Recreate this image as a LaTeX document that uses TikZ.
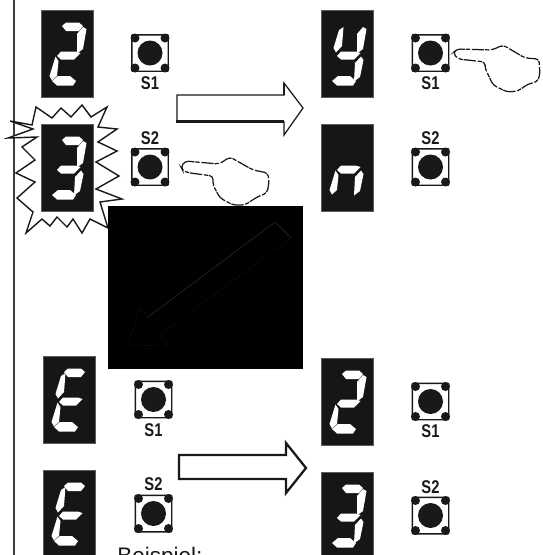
\documentclass[tikz,border=0pt]{standalone}
\usepackage{fontspec}
\setmainfont{Liberation Sans}
\newfontfamily\btnfont[FakeStretch=0.8]{Liberation Sans}
\usepackage{xcolor}
\usetikzlibrary{positioning,calc}
\definecolor{C_panel}{RGB}{20,22,24}
\definecolor{C_ink}{RGB}{26,24,24}
\definecolor{C_rule}{RGB}{60,60,60}
\definecolor{C_ghost}{RGB}{36,30,27}
\begin{document}
\begin{tikzpicture}[x=0.02cm,y=-0.02cm]
  \tikzset{
    display/.style={rectangle, fill=C_panel, draw=C_panel!70, line width=0.2pt, minimum width=1.04cm, minimum height=1.74cm, inner sep=0pt, anchor=north west},
    segment/.style={fill=white, draw=none},
    sega/.style={insert path={(21,16) -- (25,12.5) -- (38,12.5) -- (42,16) -- (38,21) -- (25,21) -- cycle}},
    segb/.style={insert path={(42,17) -- (45.5,19) -- (42,39) -- (36,43.5) -- (36,24) -- cycle}},
    segc/.style={insert path={(40,46.5) -- (42.5,50) -- (39,67) -- (33,71.5) -- (34,53) -- cycle}},
    segd/.style={insert path={(11,71) -- (17,66) -- (29,66) -- (35,71) -- (32,75.5) -- (16,75.5) -- cycle}},
    sege/.style={insert path={(14.5,46.5) -- (17.5,51) -- (16,66) -- (11,70.5) -- (8.5,66) -- cycle}},
    segf/.style={insert path={(18,20) -- (22.5,17) -- (21,36) -- (15,42.5) -- (12.5,38) -- cycle}},
    segg/.style={insert path={(16,46) -- (20,41.5) -- (35,41.5) -- (39.5,43) -- (33,49.5) -- (20,49.5) -- cycle}},
    button/.style={rectangle, draw=C_ink, fill=white, line width=0.85pt, rounded corners=0.5pt, minimum size=0.73cm, inner sep=0pt},
    btnlabel/.style={font=\btnfont\fontsize{10.5}{10.5}\selectfont\bfseries, text=C_ink, inner sep=0pt},
    bigarrow/.style={draw=C_ink, fill=white, line width=1.3pt, line join=miter},
    burst/.style={draw=C_ink, fill=white, line width=0.8pt, line join=miter},
    handline/.style={draw=C_ink, line width=0.7pt, dash pattern=on 7pt off 0.5pt on 2.5pt off 1pt, rounded corners=2pt}
  }
  \useasboundingbox (0,0) rectangle (543,555);
  \clip (0,0) rectangle (543,555);
  \fill[white] (0,0) rectangle (543,555);
  \draw[C_rule, line width=1pt] (14,0) -- (14,555);

  \draw[burst] (36,107) -- (52,118) -- (61,108) -- (71,117) -- (82,105) -- (91,117) -- (107,107) -- (98,127) -- (117,129) -- (98,142) -- (117,151) -- (96,162) -- (119,176) -- (96,189) -- (122,199) -- (100,202) -- (108,228) -- (90,219) -- (82,233) -- (73,219) -- (67,227) -- (57,217) -- (50,226) -- (42,219) -- (26,233) -- (33,212) -- (17,198) -- (35,182) -- (16,173) -- (35,160) -- (22,147) -- (37,137) -- (8,138) -- (33,129) -- (10,121) -- (32,125) -- cycle;

  \foreach \nm/\x/\y/\segs in {dispA/41/10/{a,b,g,e,d},dispB/41/124/{a,b,g,c,d},dispC/321/10/{f,b,g,c,d},dispD/321/124/{g,e,c},dispE/43/356/{a,f,g,e,d},dispF/43/470/{a,f,g,e,d},dispG/321/358/{a,b,g,e,d},dispH/321/472/{a,b,g,c,d}} {
    \node[display] (\nm) at (\x,\y) {};
    \begin{scope}[shift={(\x,\y)}]
      \foreach \s in \segs {
        \fill[segment, seg\s];
      }
    \end{scope}
  }

  \foreach \nm/\x/\y/\lab/\ly in {btnA/150/53/S1/83,btnB/150/167/S2/138,btnC/430.5/53/S1/83,btnD/430.5/167/S2/138,btnE/153.5/399.5/S1/430,btnF/153.5/513.5/S2/484,btnG/430.5/401.5/S1/431,btnH/430.5/515.5/S2/487} {
    \node[button] (\nm) at (\x,\y) {};
    \fill[C_ink] (\nm.center) circle (12.5);
    \foreach \dx/\dy in {-15/-15,15/-15,-15/15,15/15} {
      \fill[C_ink] ($(\nm.center)+(\dx,\dy)$) circle (4.5);
    }
    \node[btnlabel] (lab\nm) at (\x,\ly) {\lab};
  }

  \draw[bigarrow, line width=0.7pt] (177,95) -- (284,95) -- (284,83) -- (303,108) -- (284,135) -- (284,122) -- (177,122) -- cycle;
  \draw[C_ink, line width=1.7pt] (176,121.5) -- (284,121.5);
  \draw[C_ink, line width=1.3pt] (284,95) -- (284,83);
  \draw[bigarrow] (179,455) -- (286,455) -- (286,443) -- (306,468) -- (286,493) -- (286,479) -- (179,479) -- cycle;

  \draw[handline] (181,167) -- (185,161) -- (219,164) -- (230,157) -- (253,170) -- (268,173) -- (269,183) -- (267,193) -- (257,197) -- (245,205) -- (233,205) -- (220,198) -- (213,185) -- (213,176) -- (190,173) -- (183,171) -- cycle;
  \draw[handline] (453,53) -- (457,49) -- (492,50) -- (503,45) -- (525,58) -- (539,59) -- (540,75) -- (537,82) -- (528,84) -- (518,91) -- (507,92) -- (493,85) -- (485,68) -- (485,62) -- (458,59) -- cycle;

  \fill[black] (108,206) rectangle (303,369);
  \draw[C_ghost, line width=0.5pt] (148,317) -- (275,222) -- (291,238);
  \draw[C_ghost, line width=0.4pt, densely dotted] (291,238) -- (160,335) -- (168,346) -- (128,345) -- (140,307) -- (148,317);

  \node[anchor=base west, font=\fontsize{12.8}{13}\selectfont, text=C_ink, inner sep=0pt] (example) at (117,563.5) {Beispiel:};
\end{tikzpicture}
\end{document}
